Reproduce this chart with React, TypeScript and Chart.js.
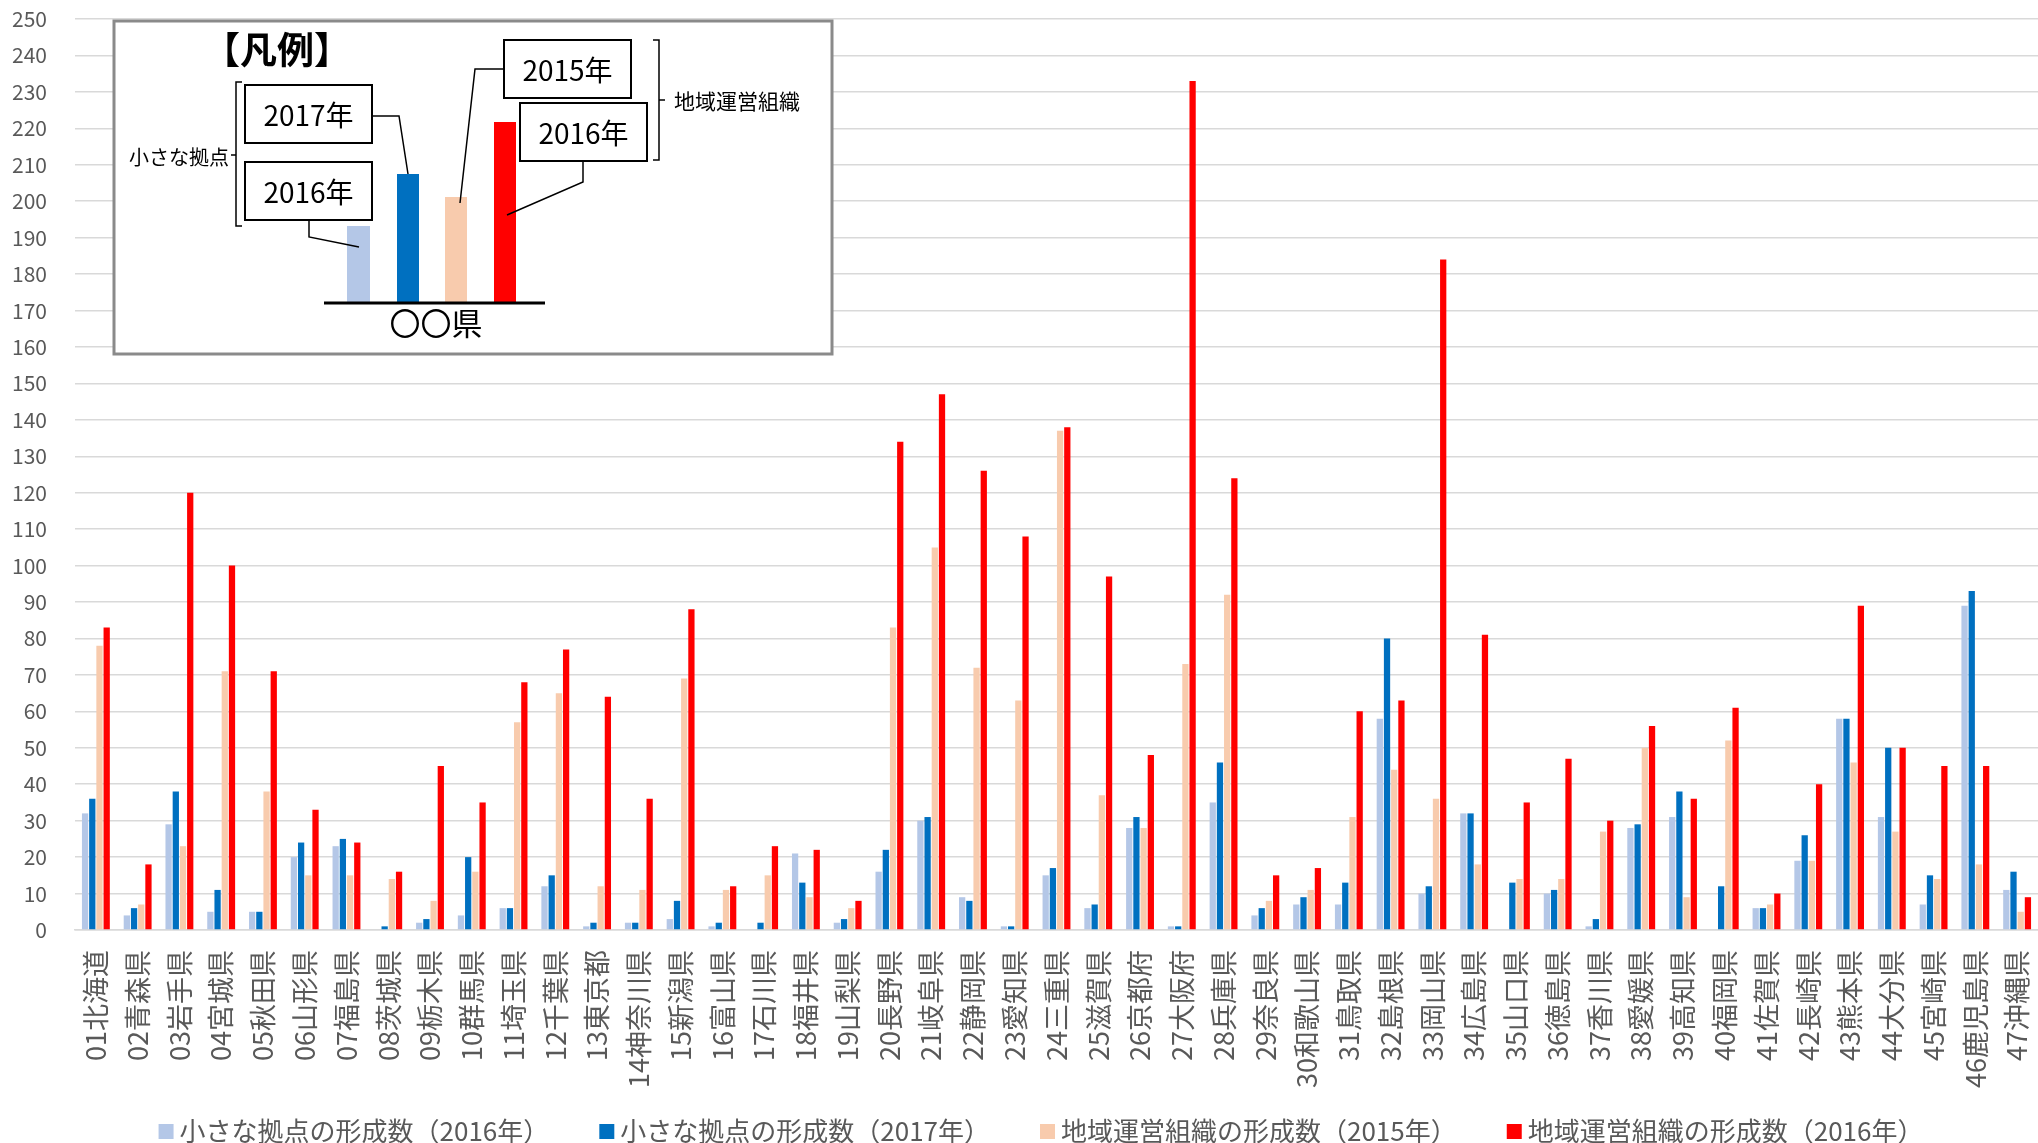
import React, { useEffect, useRef } from "react";
import { Chart, registerables } from "chart.js";

Chart.register(...registerables);

const prefectures = [
  "01北海道", "02青森県", "03岩手県", "04宮城県", "05秋田県", "06山形県", "07福島県",
  "08茨城県", "09栃木県", "10群馬県", "11埼玉県", "12千葉県", "13東京都", "14神奈川県",
  "15新潟県", "16富山県", "17石川県", "18福井県", "19山梨県", "20長野県", "21岐阜県",
  "22静岡県", "23愛知県", "24三重県", "25滋賀県", "26京都府", "27大阪府", "28兵庫県",
  "29奈良県", "30和歌山県", "31鳥取県", "32島根県", "33岡山県", "34広島県", "35山口県",
  "36徳島県", "37香川県", "38愛媛県", "39高知県", "40福岡県", "41佐賀県", "42長崎県",
  "43熊本県", "44大分県", "45宮崎県", "46鹿児島県", "47沖縄県",
];

const smallHub2016 = [
  32, 4, 29, 5, 5, 20, 23, 0, 2, 4, 6, 12, 1, 2, 3, 1, 0, 21, 2, 16, 30, 9, 1, 15,
  6, 28, 1, 35, 4, 7, 7, 58, 10, 32, 0, 10, 1, 28, 31, 0, 6, 19, 58, 31, 7, 89, 11,
];
const smallHub2017 = [
  36, 6, 38, 11, 5, 24, 25, 1, 3, 20, 6, 15, 2, 2, 8, 2, 2, 13, 3, 22, 31, 8, 1, 17,
  7, 31, 1, 46, 6, 9, 13, 80, 12, 32, 13, 11, 3, 29, 38, 12, 6, 26, 58, 50, 15, 93, 16,
];
const regionOrg2015 = [
  78, 7, 23, 71, 38, 15, 15, 14, 8, 16, 57, 65, 12, 11, 69, 11, 15, 9, 6, 83, 105, 72, 63, 137,
  37, 28, 73, 92, 8, 11, 31, 44, 36, 18, 14, 14, 27, 50, 9, 52, 7, 19, 46, 27, 14, 18, 5,
];
const regionOrg2016 = [
  83, 18, 120, 100, 71, 33, 24, 16, 45, 35, 68, 77, 64, 36, 88, 12, 23, 22, 8, 134, 147, 126, 108, 138,
  97, 48, 233, 124, 15, 17, 60, 63, 184, 81, 35, 47, 30, 56, 36, 61, 10, 40, 89, 50, 45, 45, 9,
];

const seriesLabels = [
  "小さな拠点の形成数（2016年）",
  "小さな拠点の形成数（2017年）",
  "地域運営組織の形成数（2015年）",
  "地域運営組織の形成数（2016年）",
];
const seriesColors = ["#B4C7E7", "#0070C0", "#F8CBAD", "#FF0000"];

const yMin = 0;
const yMax = 250;
const yStep = 10;

const FONT = '"Noto Sans CJK JP", "Noto Sans", sans-serif';
const W = 2038;
const H = 1143;
const LEGEND_FONT = 26;
const LEGEND_PAD = 6;
const LEGEND_BOX = 52;
const SQUARE = 15;
const SQUARE_OFFSET = LEGEND_BOX - 8; // square left edge relative to item start

function makeMarker(color: string): HTMLCanvasElement {
  const imgW = 2 * LEGEND_BOX + 40;
  const c = document.createElement("canvas");
  c.width = imgW;
  c.height = SQUARE;
  const g = c.getContext("2d");
  if (g) {
    const sx = SQUARE_OFFSET - (LEGEND_BOX / 2 - imgW / 2);
    g.fillStyle = color;
    g.fillRect(sx, 0, SQUARE, SQUARE);
  }
  return c;
}

const insetLegendPlugin = {
  id: "insetLegend",
  afterDraw(chart: any) {
    const ctx = chart.ctx as CanvasRenderingContext2D;
    const ds = chart.data.datasets;
    ctx.save();
    // frame
    ctx.fillStyle = "#ffffff";
    ctx.fillRect(114, 21, 718, 333);
    ctx.strokeStyle = "#8a8a8a";
    ctx.lineWidth = 3;
    ctx.strokeRect(114, 21, 718, 333);

    // title
    ctx.fillStyle = "#000000";
    ctx.textBaseline = "middle";
    ctx.textAlign = "center";
    ctx.font = `bold 37px ${FONT}`;
    ctx.fillText("【凡例】", 277, 50);

    // sample bars
    const bars = [
      { x: 347, w: 23, top: 226 },
      { x: 397, w: 22, top: 174 },
      { x: 445, w: 22, top: 197 },
      { x: 494, w: 22, top: 122 },
    ];
    bars.forEach((b, i) => {
      ctx.fillStyle = ds[i].backgroundColor;
      ctx.fillRect(b.x, b.top, b.w, 302 - b.top);
    });
    ctx.strokeStyle = "#000000";
    ctx.lineWidth = 3;
    ctx.beginPath();
    ctx.moveTo(324, 303);
    ctx.lineTo(545, 303);
    ctx.stroke();

    ctx.fillStyle = "#000000";
    ctx.textAlign = "center";
    ctx.font = `31px ${FONT}`;
    ctx.fillText("〇〇県", 436, 323);

    // label boxes
    const boxes = [
      { x: 245, y: 85, t: "2017年" },
      { x: 245, y: 162, t: "2016年" },
      { x: 504, y: 40, t: "2015年" },
      { x: 520, y: 103, t: "2016年" },
    ];
    ctx.lineWidth = 2;
    ctx.font = `28px ${FONT}`;
    boxes.forEach((b) => {
      ctx.fillStyle = "#ffffff";
      ctx.fillRect(b.x, b.y, 127, 58);
      ctx.strokeStyle = "#000000";
      ctx.strokeRect(b.x, b.y, 127, 58);
      ctx.fillStyle = "#000000";
      ctx.fillText(b.t, b.x + 63.5, b.y + 30);
    });

    // connectors
    ctx.lineWidth = 1.5;
    const paths = [
      [[372, 116], [399, 116], [408, 174]],
      [[309, 220], [309, 237], [359, 247]],
      [[504, 69], [475, 69], [460, 203]],
      [[583, 161], [583, 182], [507, 215]],
    ];
    paths.forEach((p) => {
      ctx.beginPath();
      ctx.moveTo(p[0][0], p[0][1]);
      for (let i = 1; i < p.length; i++) ctx.lineTo(p[i][0], p[i][1]);
      ctx.stroke();
    });

    // brackets
    ctx.beginPath();
    ctx.moveTo(242, 82);
    ctx.lineTo(236, 82);
    ctx.lineTo(236, 226);
    ctx.lineTo(242, 226);
    ctx.moveTo(236, 155);
    ctx.lineTo(231, 155);
    ctx.moveTo(653, 40);
    ctx.lineTo(659, 40);
    ctx.lineTo(659, 160);
    ctx.lineTo(653, 160);
    ctx.moveTo(659, 100);
    ctx.lineTo(665, 100);
    ctx.stroke();

    ctx.font = `20px ${FONT}`;
    ctx.textAlign = "right";
    ctx.fillText("小さな拠点", 229, 157);
    ctx.font = `21px ${FONT}`;
    ctx.textAlign = "left";
    ctx.fillText("地域運営組織", 674, 101);
    ctx.restore();
  },
};

export default function App() {
  const canvasRef = useRef<HTMLCanvasElement | null>(null);

  useEffect(() => {
    document.body.style.margin = "0";
    const canvas = canvasRef.current;
    if (!canvas) return;
    const seriesData = [smallHub2016, smallHub2017, regionOrg2015, regionOrg2016];
    const markers = seriesColors.map((c) => makeMarker(c));
    const legendHeight = LEGEND_FONT + LEGEND_PAD + 10;
    const legendTop = 1131 - LEGEND_PAD - LEGEND_FONT / 2;
    const bottomPad = H - (legendTop + legendHeight);
    const xAxisHeight = legendTop - 930;
    const chart = new Chart(canvas, {
      type: "bar",
      data: {
        labels: prefectures,
        datasets: seriesData.map((d, i) => ({
          label: seriesLabels[i],
          data: d,
          backgroundColor: seriesColors[i],
          borderWidth: 0,
          barPercentage: 0.87,
          categoryPercentage: 0.69,
        })),
      },
      options: {
        responsive: false,
        animation: false,
        devicePixelRatio: 1,
        layout: { padding: { top: 19, right: 0, left: 0, bottom: bottomPad } },
        plugins: {
          tooltip: { enabled: false },
          legend: {
            position: "bottom",
            labels: {
              color: "#595959",
              font: { size: LEGEND_FONT, family: FONT },
              usePointStyle: true,
              pointStyleWidth: LEGEND_BOX,
              boxHeight: SQUARE,
              padding: LEGEND_PAD,
              generateLabels(chart: any) {
                const items = (Chart.defaults as any).plugins.legend.labels.generateLabels(chart);
                return items.map((it: any) => ({ ...it, pointStyle: markers[it.datasetIndex] }));
              },
            },
          },
        },
        scales: {
          x: {
            grid: { display: false, drawTicks: false },
            border: { display: true, color: "#D9D9D9", width: 1.5 },
            ticks: {
              autoSkip: false,
              maxRotation: 90,
              minRotation: 90,
              padding: 20,
              color: "#595959",
              font: { size: 27, family: FONT },
            },
            afterFit(scale: any) {
              scale.height = xAxisHeight;
              scale.paddingLeft = 0;
              scale.paddingRight = 0;
            },
          },
          y: {
            min: yMin,
            max: yMax,
            grid: { color: "#D9D9D9", lineWidth: 1.5, drawTicks: false },
            border: { display: false },
            ticks: {
              stepSize: yStep,
              padding: 28,
              color: "#595959",
              font: { size: 21, family: FONT },
            },
            afterFit(scale: any) {
              scale.width = 75;
              scale.paddingTop = 0;
              scale.paddingBottom = 0;
            },
          },
        },
      },
      plugins: [insetLegendPlugin],
    });
    return () => chart.destroy();
  }, []);

  return (
    <div style={{ width: W, height: H }}>
      <canvas ref={canvasRef} width={W} height={H} style={{ display: "block" }} />
    </div>
  );
}
